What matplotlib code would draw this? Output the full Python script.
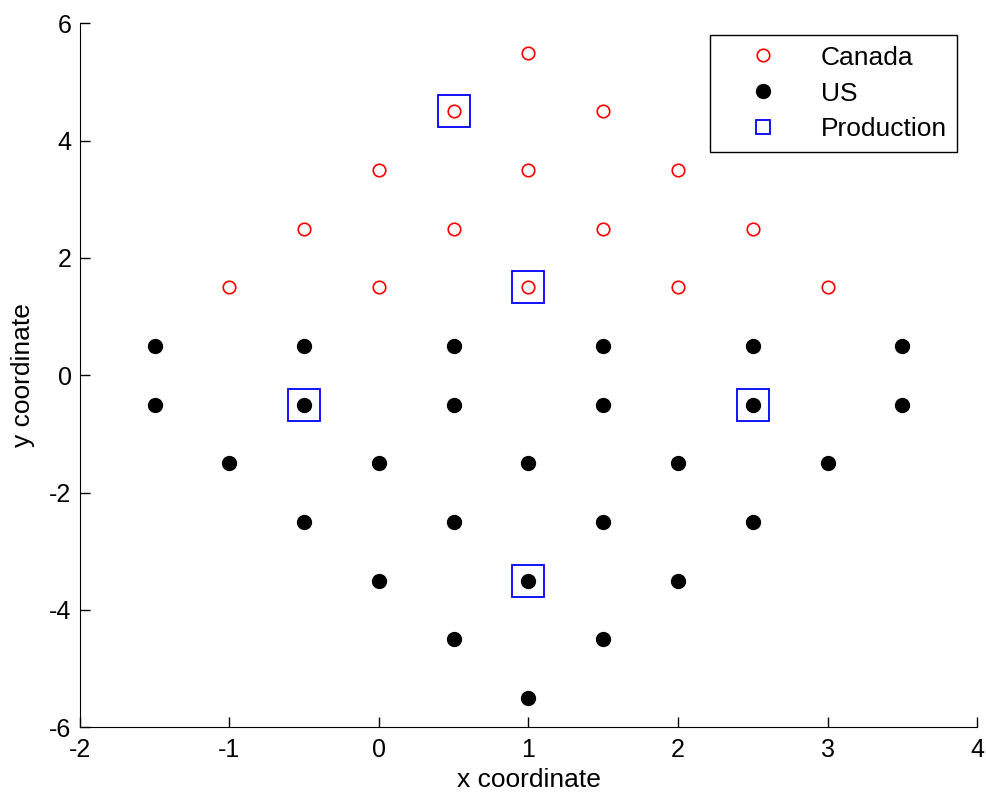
import matplotlib
matplotlib.use("Agg")
import matplotlib.pyplot as plt

plt.rcParams['font.family'] = ['Liberation Sans', 'DejaVu Sans']
plt.rcParams['axes.unicode_minus'] = False

# Canada 点
canada_x = [1, 0.5, 1.5, 0, 1, 2, -0.5, 0.5, 1.5, 2.5, -1, 0, 1, 2, 3]
canada_y = [5.5, 4.5, 4.5, 3.5, 3.5, 3.5, 2.5, 2.5, 2.5, 2.5, 1.5, 1.5, 1.5, 1.5, 1.5]

# US 点
us_x = [-1.5, -0.5, 0.5, 1.5, 2.5, 3.5,
        -1.5, -0.5, 0.5, 1.5, 2.5, 3.5,
        -1, 0, 1, 2, 3,
        -0.5, 0.5, 1.5, 2.5,
        0, 1, 2,
        0.5, 1.5,
        1]
us_y = [0.5] * 6 + [-0.5] * 6 + [-1.5] * 5 + [-2.5] * 4 + [-3.5] * 3 + [-4.5] * 2 + [-5.5]

# Production 点
prod_x = [0.5, 1, -0.5, 2.5, 1]
prod_y = [4.5, 1.5, -0.5, -0.5, -3.5]

fig = plt.figure(figsize=(9.86, 8), dpi=100)
ax = fig.add_axes([0.081, 0.091, 0.91, 0.88])

ax.plot(canada_x, canada_y, linestyle='none', marker='o', markersize=9,
        markerfacecolor='none', markeredgecolor='red', markeredgewidth=1.2, label='Canada')
ax.plot(us_x, us_y, linestyle='none', marker='o', markersize=10,
        color='black', label='US')
ax.plot(prod_x, prod_y, linestyle='none', marker='s', markersize=23,
        markerfacecolor='none', markeredgecolor='blue', markeredgewidth=1.3, label='Production')

ax.set_xlim(-2, 4)
ax.set_ylim(-6, 6)
ax.set_xticks([-2, -1, 0, 1, 2, 3, 4])
ax.set_yticks([-6, -4, -2, 0, 2, 4, 6])
ax.set_xlabel('x coordinate', fontsize=19, labelpad=4)
ax.set_ylabel('y coordinate', fontsize=19, labelpad=10)
ax.tick_params(direction='in', labelsize=18, length=7, width=1)
ax.tick_params(axis='y', pad=6)
ax.tick_params(axis='x', pad=8)
ax.spines['top'].set_visible(False)
ax.spines['right'].set_visible(False)

leg = ax.legend(loc='upper right', bbox_to_anchor=(0.978, 0.983), fontsize=19,
                fancybox=False, edgecolor='black', framealpha=1,
                handlelength=3.2, handletextpad=0.6, borderpad=0.4,
                labelspacing=0.45, borderaxespad=0)
leg.get_frame().set_linewidth(1)
# 图例中标记大小
leg.legend_handles[0].set_markersize(9)
leg.legend_handles[1].set_markersize(10)
leg.legend_handles[2].set_markersize(10)

fig.savefig('out.png', dpi=100)
